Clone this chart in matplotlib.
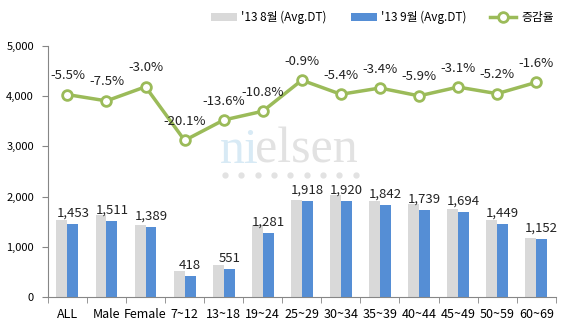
import matplotlib
matplotlib.use("Agg")
import matplotlib.pyplot as plt
from matplotlib.ticker import FuncFormatter

plt.rcParams['font.family'] = ['Noto Sans CJK KR', 'DejaVu Sans']

# data
categories = ["ALL", "Male", "Female", "7~12", "13~18", "19~24", "25~29",
              "30~34", "35~39", "40~44", "45~49", "50~59", "60~69"]
aug_dt = [1538, 1634, 1432, 523, 638, 1436, 1935, 2030, 1907, 1848, 1748, 1528, 1171]
sep_dt = [1453, 1511, 1389, 418, 551, 1281, 1918, 1920, 1842, 1739, 1694, 1449, 1152]
change_pct = [-5.5, -7.5, -3.0, -20.1, -13.6, -10.8, -0.9, -5.4, -3.4, -5.9, -3.1, -5.2, -1.6]

gray = "#D9D9D9"
blue = "#558ED5"
green = "#9BBB59"
axis_col = "#868686"

fig = plt.figure(figsize=(5.7, 3.33), dpi=100)
ax = fig.add_axes([0.084, 0.108, 0.891, 0.754])

x = list(range(len(categories)))
w = 0.28
ax.bar([i - w / 2 for i in x], aug_dt, width=w, color=gray, label="'13 8월 (Avg.DT)", zorder=2)
ax.bar([i + w / 2 for i in x], sep_dt, width=w, color=blue, label="'13 9월 (Avg.DT)", zorder=2)

for i, v in zip(x, sep_dt):
    ax.annotate(f"{v:,}", (i + w / 2, v), xytext=(0, 3), textcoords="offset points",
                ha="center", va="bottom", fontsize=9.5, color="#222222")

ax.set_xlim(-0.5, len(categories) - 0.5)
ax.set_ylim(0, 5000)
ax.set_yticks(range(0, 5001, 1000))
ax.yaxis.set_major_formatter(FuncFormatter(lambda v, p: f"{int(v):,}"))
ax.tick_params(axis="y", labelsize=8, length=4, color=axis_col, pad=6)

ax.set_xticks(x)
ax.set_xticklabels(categories, fontsize=9)
ax.set_xticks([i + 0.5 for i in range(-1, len(categories))], minor=True)
ax.tick_params(axis="x", which="major", length=0, pad=8)
ax.tick_params(axis="x", which="minor", length=4, color=axis_col)

for s in ["top", "right"]:
    ax.spines[s].set_visible(False)
for s in ["left", "bottom"]:
    ax.spines[s].set_color(axis_col)

# watermark: "ni" light blue, "elsen" light gray, placed side by side
t1 = ax.text(3.9, 2670, "ni", fontsize=36, family="Liberation Serif", color="#D8EAF5",
             ha="left", va="baseline", zorder=1)
fig.canvas.draw()
x_end = t1.get_window_extent().x1 - 4  # close the gap left by the glyph box
x_split = ax.transData.inverted().transform((x_end, 0))[0]
ax.text(x_split, 2670, "elsen", fontsize=36, family="Liberation Serif", color="#E2E2E2",
        ha="left", va="baseline", zorder=1)
dots_x = [4.03 + k * (7.38 - 4.03) / 8 for k in range(9)]
ax.plot(dots_x, [2430] * 9, "o", color="#E2E2E2", markersize=3.5, zorder=1)

# change rate on hidden secondary axis
ax2 = ax.twinx()
ax2.set_ylim(-70, 10)
ax2.axis("off")
ax2.plot(x, change_pct, color=green, lw=2.5, marker="o", markersize=7,
         markerfacecolor="white", markeredgecolor=green, markeredgewidth=2,
         label="증감율", zorder=3)
for i, p in zip(x, change_pct):
    ax2.annotate(f"{p:.1f}%", (i, p), xytext=(0, 9), textcoords="offset points",
                 ha="center", va="bottom", fontsize=9.5, color="#222222")

h1, l1 = ax.get_legend_handles_labels()
h2, l2 = ax2.get_legend_handles_labels()
fig.legend(h1 + h2, l1 + l2, loc="upper right", bbox_to_anchor=(0.99, 1.0), ncol=3,
           frameon=False, fontsize=8.5, handlelength=2.2, columnspacing=2.0,
           handletextpad=0.4)

fig.savefig("out.png", dpi=100)
